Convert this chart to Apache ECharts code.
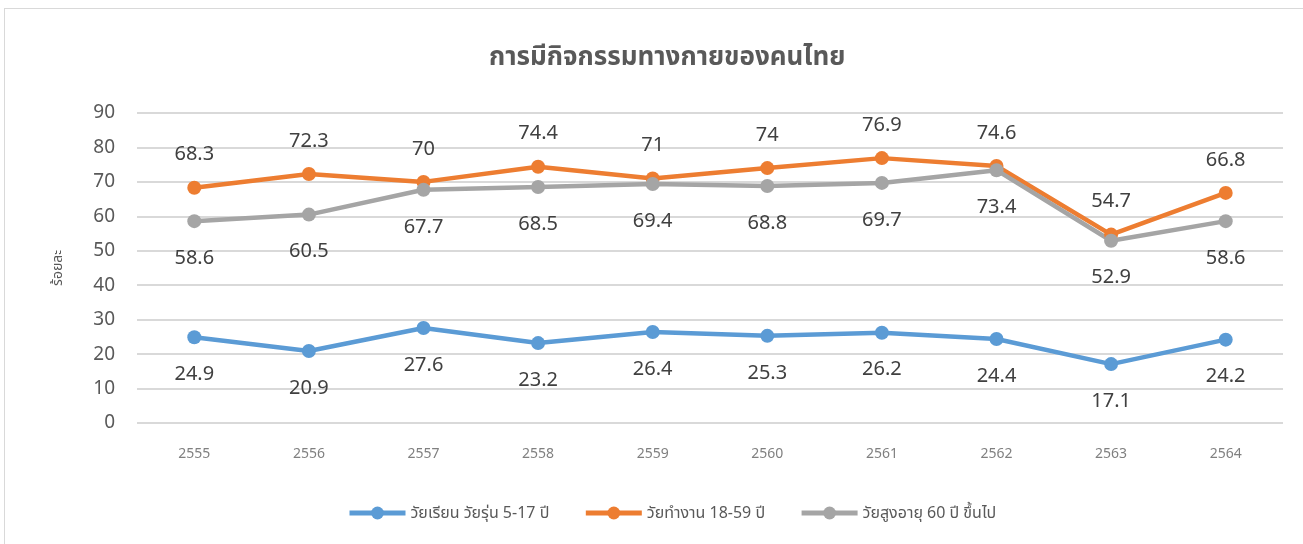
<!DOCTYPE html>
<html><head><meta charset="utf-8">
<script src="https://cdn.jsdelivr.net/npm/echarts@6/dist/echarts.min.js"></script>
<style>
html,body{margin:0;padding:0;background:#fff;overflow:hidden}
#frame{position:absolute;left:4px;top:8px;width:1310px;height:560px;border:1px solid #d9d9d9;box-sizing:border-box}
#c{position:absolute;left:0;top:0;width:1303px;height:544px}
</style></head>
<body><div id="frame"></div><div id="c"></div>
<script>
const categories = ['2555','2556','2557','2558','2559','2560','2561','2562','2563','2564'];
const students = [24.9,20.9,27.6,23.2,26.4,25.3,26.2,24.4,17.1,24.2];
const workers = [68.3,72.3,70,74.4,71,74,76.9,74.6,54.7,66.8];
const elderly = [58.6,60.5,67.7,68.5,69.4,68.8,69.7,73.4,52.9,58.6];
const seriesNames = ['วัยเรียน วัยรุ่น 5-17 ปี','วัยทำงาน 18-59 ปี','วัยสูงอายุ 60 ปี ขึ้นไป'];
const yTicks = {min:0,max:90,interval:10};

const font = "'Noto Sans','Noto Sans Thai',Tahoma,sans-serif";
const chart = echarts.init(document.getElementById('c'));
function mk(name, data, color, pos, dist){
  return {name, type:'line', data, color, symbol:'circle', symbolSize:14,
    lineStyle:{width:4.5,color}, itemStyle:{color},
    label:{show:true, position:pos, distance:dist, fontSize:20, color:'#404040', fontFamily:font},
    z: 2};
}
chart.setOption({
  animation:false,
  title:{text:'การมีกิจกรรมทางกายของคนไทย', left:484, top:40,
    textStyle:{fontSize:26,fontWeight:'bold',color:'#595959',fontFamily:font}},
  grid:{left:137,right:20,top:113,bottom:121,containLabel:false},
  legend:{bottom:18,left:342,itemWidth:56,itemHeight:16,itemGap:34,
    lineStyle:{width:5},
    textStyle:{fontSize:16,color:'#595959',fontFamily:font}},
  xAxis:{type:'category',data:categories,boundaryGap:true,
    axisLine:{show:false},axisTick:{show:false},
    axisLabel:{fontSize:14,color:'#808080',margin:24,fontFamily:font}},
  yAxis:{type:'value',min:yTicks.min,max:yTicks.max,interval:yTicks.interval,
    name:'ร้อยละ',nameLocation:'middle',nameGap:72,nameRotate:90,
    nameTextStyle:{fontSize:14,color:'#595959',fontFamily:font},
    axisLabel:{fontSize:19,color:'#595959',margin:22,fontFamily:font},
    splitLine:{lineStyle:{color:'#d9d9d9',width:2}}},
  series:[
    mk(seriesNames[0], students, '#5B9BD5', 'bottom', 20),
    mk(seriesNames[1], workers, '#ED7D31', 'top', 16),
    mk(seriesNames[2], elderly, '#A5A5A5', 'bottom', 20)
  ]
});
</script></body></html>
